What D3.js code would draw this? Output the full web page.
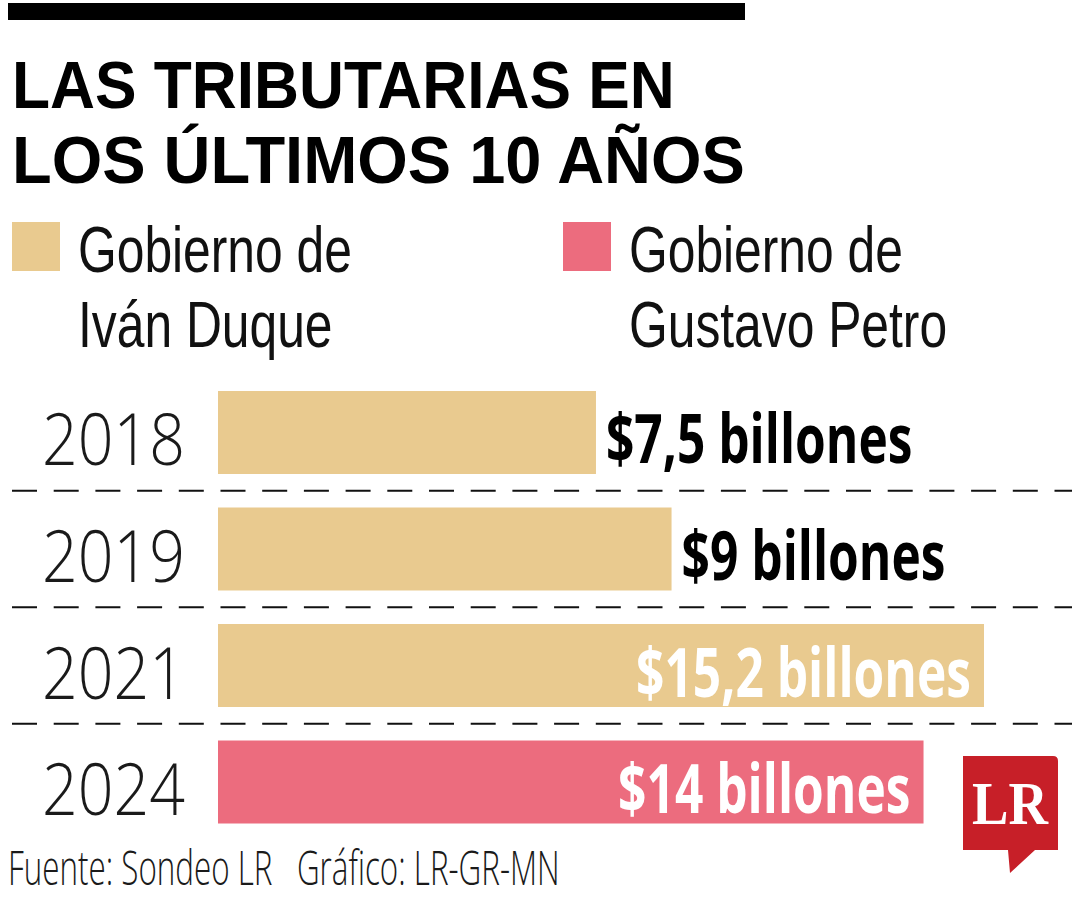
<!DOCTYPE html>
<html lang="es">
<head>
  <meta charset="UTF-8">
  <title>Las tributarias en los últimos 10 años</title>
  <style>
    body { margin: 0; background: #fff; }
    svg { display: block; }
    .title { font-family: 'Liberation Sans Narrow', 'Liberation Sans', sans-serif; font-weight: 700; fill: #000; }
    .legend { font-family: 'Liberation Sans Narrow', 'Liberation Sans', sans-serif; font-weight: 400; fill: #111; }
    .year { font-family: 'Open Sans', sans-serif; font-weight: 300; fill: #1a1a1a; }
    .value { font-family: 'Open Sans', sans-serif; font-weight: 700; }
    .foot { font-family: 'Open Sans', sans-serif; font-weight: 300; fill: #1a1a1a; }
  </style>
  <script src="https://cdn.jsdelivr.net/npm/d3@7"></script>
</head>
<body>
<svg width="1080" height="900"></svg>
<script>
  // datos
  const years = ["2018", "2019", "2021", "2024"];
  const values = [7.5, 9, 15.2, 14];
  const government = ["duque", "duque", "duque", "petro"];
  const govKeys = ["duque", "petro"];
  const govLabels = [["Gobierno de", "Iván Duque"], ["Gobierno de", "Gustavo Petro"]];
  const titleLines = ["LAS TRIBUTARIAS EN", "LOS ÚLTIMOS 10 AÑOS"];
  const footer = "Fuente: Sondeo LR   Gráfico: LR-GR-MN";

  const rows = years.map((y, i) => ({ year: y, value: values[i], gov: government[i] }));

  const svg = d3.select("svg");
  const color = d3.scaleOrdinal().domain(govKeys).range(["#e9ca8f", "#ec6c7e"]);
  const es = d3.formatLocale({ decimal: ",", thousands: ".", grouping: [3], currency: ["$", ""] });
  const fmt = v => "$" + es.format(",")(v) + " billones";

  // fake a condensed face: draw at origin, then translate + squeeze on x
  function place(sel, px, py, k) {
    sel.attr("x", 0).attr("y", 0)
      .attr("transform", function(d, i) {
        const kk = typeof k === "function" ? k(d, i, this) : k;
        return `translate(${px(d, i, this)},${py(d, i)}) scale(${kk},1)`;
      });
  }
  const natural = node => node.getComputedTextLength();

  // multi-line block as one text with tspans
  function lines(text, arr, lh) {
    text.selectAll("tspan")
      .data(arr).enter().append("tspan")
      .attr("x", 0)
      .attr("dy", (d, i) => i ? lh : 0)
      .text(d => d);
  }

  // top rule
  svg.append("rect").attr("x", 8).attr("y", 3).attr("width", 737).attr("height", 17).attr("fill", "#000");

  // title, each line squeezed to its own width
  const titleWidths = [663, 733];
  const title = svg.append("g").selectAll("text")
    .data(titleLines).enter().append("text")
    .attr("class", "title")
    .attr("font-size", 66)
    .text(d => d);
  place(title, () => 12, (d, i) => 108 + i * 75, (d, i, node) => titleWidths[i] / natural(node));

  // legend
  const leg = svg.append("g").selectAll("g")
    .data(govKeys).enter().append("g")
    .attr("transform", (d, i) => `translate(${12 + i * 551},222)`);
  leg.append("rect").attr("width", 48).attr("height", 49).attr("fill", d => color(d));
  const legText = leg.append("text")
    .attr("class", "legend")
    .attr("font-size", 65)
    .each(function(d, i) { lines(d3.select(this), govLabels[i], 75); });
  const kl = 274 / legText.select("tspan").node().getComputedTextLength();
  legText.attr("transform", `translate(66,50) scale(${kl},1)`);

  // scales
  const x = d3.scaleLinear().domain([0, 15.2]).range([218, 984]);
  const y = d3.scaleBand().domain(years).range([391, 823.5]).paddingInner(0.2876).paddingOuter(0);
  const gap = (y.step() - y.bandwidth()) / 2;

  // dashed separators
  svg.append("g").selectAll("line")
    .data(years.slice(1)).enter().append("line")
    .attr("x1", 12).attr("x2", 1072)
    .attr("y1", d => y(d) - gap)
    .attr("y2", d => y(d) - gap)
    .attr("stroke", "#111").attr("stroke-width", 2.2)
    .attr("stroke-dasharray", "25 16.7");

  // bars
  svg.append("g").selectAll("rect")
    .data(rows).enter().append("rect")
    .attr("x", x(0))
    .attr("y", d => y(d.year))
    .attr("width", d => x(d.value) - x(0))
    .attr("height", y.bandwidth())
    .attr("fill", d => color(d.gov));

  // year labels
  const yr = svg.append("g").selectAll("text")
    .data(rows).enter().append("text")
    .attr("class", "year")
    .attr("font-size", 71)
    .text(d => d.year);
  place(yr, () => 42, d => y(d.year) + y.bandwidth() / 2 + 33, 143 / natural(yr.nodes()[0]));

  // value labels: small values sit after the bar, big ones inside in white
  const inside = d => d.value > 10;
  const val = svg.append("g").selectAll("text")
    .data(rows).enter().append("text")
    .attr("class", "value")
    .attr("font-size", 68)
    .attr("fill", d => inside(d) ? "#fff" : "#000")
    .text(d => fmt(d.value));
  const kv = 264 / natural(val.nodes()[1]);
  place(val, (d, i, node) => {
    const w = natural(node) * kv, xe = x(d.value);
    return inside(d) ? xe - 13 - w : xe + 10;
  }, d => y(d.year) + y.bandwidth() / 2 + 31, kv);

  // footer
  const ft = svg.append("text")
    .attr("class", "foot")
    .attr("font-size", 47)
    .style("white-space", "pre")
    .text(footer);
  place(ft, () => 8, () => 885, 552 / natural(ft.node()));

  // LR logo
  const logo = svg.append("g");
  logo.append("path")
    .attr("d", "M963,756 H1053 Q1058,756 1058,761 V850 H1035 L1010,873 L1008,850 H963 Z")
    .attr("fill", "#c71f28");
  const lr = logo.append("text")
    .attr("font-family", "'Liberation Serif', 'DejaVu Serif', serif")
    .attr("font-weight", 700)
    .attr("font-size", 62)
    .attr("fill", "#fff")
    .text("LR");
  place(lr, () => 972, () => 824, 76 / natural(lr.node()));
</script>
</body>
</html>
